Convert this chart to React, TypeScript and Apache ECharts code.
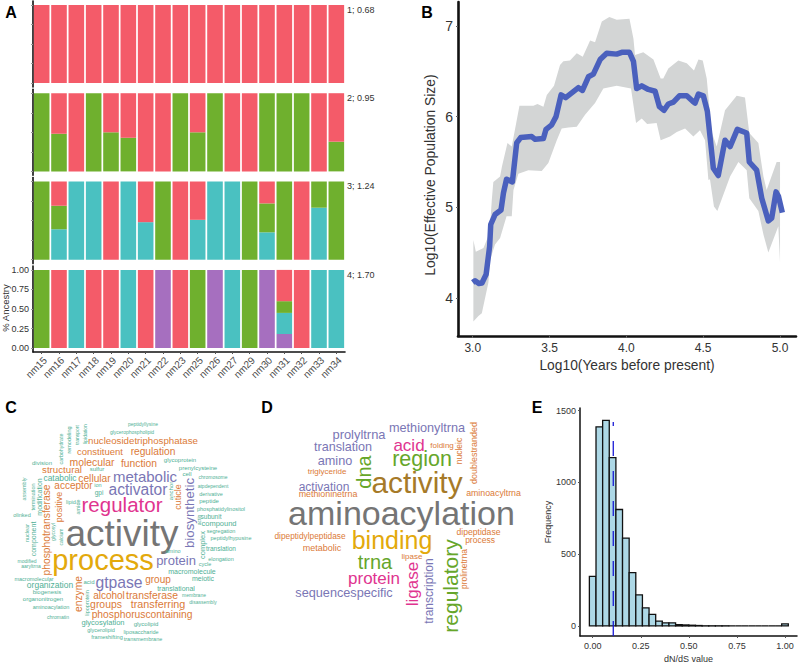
import React, { useEffect, useRef } from "react";
import * as echarts from "echarts";

// ---------- Panel A data ----------
const samples = ["nm15","nm16","nm17","nm18","nm19","nm20","nm21","nm22","nm23","nm25","nm26","nm27","nm29","nm30","nm31","nm32","nm33","nm34"];
const k1Red = [1,1,1,1,1,1,1,1,1,1,1,1,1,1,1,1,1,1];
const k2Green = [1,0.48,0,1,0.5,0.43,0,0,1,0.5,1,0,0,1,1,1,0,0.38];
const k2Red = [0,0.52,1,0,0.5,0.57,1,1,0,0.5,0,1,1,0,0,0,1,0.62];
const k3Cyan = [0,0.39,1,1,0,1,0.48,0,0,0.51,1,1,0,0.35,0,0,0.665,0];
const k3Green = [1,0.3,0,0,0,0,0,1,0,0,0,0,1,0.37,1,0,0.335,1];
const k3Red = [0,0.31,0,0,1,0,0.52,0,1,0.49,0,0,0,0.28,0,1,0,0];
const k4Purple = [0,0,0,0,0,0,0,1,0,0,1,0,0,1,0.18,0,0,0];
const k4Cyan = [0,0,1,0,0,1,0,0,0,0,0,1,0,0,0.27,0,1,1];
const k4Green = [1,0,0,0,0,0,0,0,0,1,0,0,1,0,0.15,0,0,0];
const k4Red = [0,1,0,1,1,0,1,0,1,0,0,0,0,0,0.4,1,0,0];
const stripLabels = ["1; 0.68","2; 0.95","3; 1.24","4; 1.70"];
const ancestryTicks = [0,0.25,0.5,0.75,1];

// ---------- Panel B data ----------
const skylineMean = [[3,4.17],[3.015,4.19],[3.04,4.16],[3.06,4.165],[3.087,4.26],[3.11,4.57],[3.117,4.81],[3.145,4.92],[3.184,4.97],[3.2,5.16],[3.22,5.31],[3.258,5.28],[3.286,5.71],[3.312,5.77],[3.384,5.78],[3.406,5.75],[3.46,5.76],[3.477,5.86],[3.514,5.91],[3.542,6],[3.575,6.24],[3.605,6.21],[3.688,6.32],[3.714,6.29],[3.753,6.44],[3.785,6.47],[3.829,6.63],[3.872,6.7],[3.937,6.69],[3.97,6.71],[4.02,6.71],[4.046,6.61],[4.067,6.31],[4.1,6.34],[4.143,6.3],[4.187,6.28],[4.215,6.11],[4.245,6.07],[4.273,6.14],[4.306,6.16],[4.345,6.23],[4.393,6.23],[4.432,6.17],[4.447,6.15],[4.469,6.25],[4.501,6.23],[4.527,6.06],[4.566,5.43],[4.598,5.35],[4.642,5.74],[4.675,5.67],[4.722,5.86],[4.783,5.82],[4.8,5.5],[4.848,5.41],[4.881,5.1],[4.924,4.85],[4.946,4.88],[4.974,5.17],[4.99,5.12],[5.015,4.94]];
const skylineUpper = [[3.004,4.64],[3.02,4.51],[3.07,4.55],[3.11,4.72],[3.124,5.08],[3.134,5.28],[3.178,5.34],[3.19,5.45],[3.226,5.71],[3.254,5.67],[3.304,6.12],[3.395,6.12],[3.421,6.14],[3.46,6.11],[3.482,6.24],[3.529,6.34],[3.568,6.57],[3.59,6.61],[3.633,6.62],[3.677,6.7],[3.716,6.66],[3.764,6.84],[3.796,6.82],[3.84,7.05],[3.889,7.1],[3.937,7.07],[4.02,7.08],[4.046,6.86],[4.056,6.68],[4.11,6.71],[4.176,6.63],[4.223,6.42],[4.24,6.42],[4.273,6.53],[4.338,6.62],[4.393,6.59],[4.44,6.51],[4.469,6.63],[4.497,6.62],[4.523,6.42],[4.555,5.83],[4.588,5.67],[4.642,6.07],[4.718,6.23],[4.772,6.21],[4.8,5.82],[4.859,5.71],[4.892,5.34],[4.913,5.19],[4.978,5.5],[5,5.5]];
const skylineLower = [[5,4.39],[4.989,4.79],[4.924,4.5],[4.892,4.7],[4.859,4.96],[4.8,5.1],[4.783,5.41],[4.729,5.5],[4.675,5.34],[4.592,4.96],[4.57,5.01],[4.544,5.31],[4.534,5.3],[4.512,5.74],[4.479,5.85],[4.436,5.78],[4.382,5.87],[4.328,5.83],[4.284,5.78],[4.223,5.74],[4.197,5.93],[4.135,5.92],[4.1,5.98],[4.063,5.93],[4.03,6.31],[3.937,6.34],[3.85,6.31],[3.796,6.15],[3.731,6.02],[3.677,5.89],[3.623,5.88],[3.579,5.87],[3.547,5.74],[3.492,5.49],[3.449,5.4],[3.362,5.41],[3.297,5.37],[3.265,5.19],[3.254,4.9],[3.22,4.9],[3.178,4.66],[3.145,4.59],[3.113,4.42],[3.102,4.17],[3.059,3.83],[3.037,3.8],[3.004,3.74]];
const skylineXTicks = [3,3.5,4,4.5,5];
const skylineYTicks = [4,5,6,7];

// ---------- Panel C / D words ----------
const wordsC = ["activity","process","regulator","metabolic","activator","gtpase","protein","biosynthetic","nucleosidetriphosphatase","constituent","regulation","molecular","function","structural","sulfur","catabolic","cellular","acceptor","ion","gpi","division","carbohydrate","remodeling","transport","lipidation","assembly","termination","modification","phosphotransferase","positive","lipid","amide","olinked","nuclear","component","glycosyl","calcium","modified","aaryltrna","macromolecular","organization","biogenesis","organonitrogen","aminoacylation","chromatin","enzyme","acid","lipoprotein","alcohol","transferase","groups","transferring","phosphoruscontaining","glycosylation","glycolipid","glycerolipid","frameshifting","liposaccharide","transmembrane","peptidyllysine","glycerophospholipid","glycoprotein","prenylcysteine","cell","chromosome","atpdependent","anchor","cuticle","derivative","peptide","phosphatidylinositol","subunit","compound","segregation","peptidylhypusine","translation","elongation","actin","complex","amino","cycle","macromolecule","meiotic","group","translational","membrane","disassembly"];
const wordsD = ["aminoacylation","activity","binding","region","acid","methionyltrna","prolyltrna","translation","amino","triglyceride","dna","activation","methioninetrna","folding","nucleic","doublestranded","aminoacyltrna","dipeptidylpeptidase","metabolic","dipeptidase","process","lipase","trna","protein","sequencespecific","ligase","transcription","regulatory","prolinetrna"];
// dN/dS histogram
const dnDsBinCount = [345,1387,1432,1173,811,612,372,216,126,81,34,22,22,9,7,5,3,1,1,1,1,0,0,0,0,0,0,0,0,14];
const dnDsMean = 0.107;
const dnDsXTicks = [0,0.25,0.5,0.75,1];
const dnDsYTicks = [0,500,1000,1500];

// ---------- Layout / style (separate from the data above) ----------
const RED = "#F45B69", GREEN = "#6FB02E", CYAN = "#4AC1C1", PURPLE = "#A66FBF";
const TXT = "#333333";
const FONT = "Liberation Sans";
const wc: Record<string, string> = { g: "#757575", y: "#E3A90C", p: "#E0348F", v: "#7A76B5", o: "#DB7A38", t: "#4FB095", l: "#66A62A", b: "#A67A28" };
const R = 1;
// [x, y, size, rotated, colour]
const placeC: [number, number, number, number, string][] = [
  [122,533,37,0,"g"],[103,560,29,0,"y"],[122,504,20.5,0,"p"],[145,476,15,0,"v"],[138,489,15.6,0,"v"],[119,582,15.7,0,"v"],[176,560,13,0,"v"],[189,513,13.3,R,"v"],[143,440,9.7,0,"o"],[100,451,9.5,0,"o"],[153,451,10.2,0,"o"],[92,462,10.4,0,"o"],[139,463,10.3,0,"o"],[62,469,9.7,0,"o"],[97,469,6,0,"t"],[60,478,8.4,0,"t"],[94.5,478,10.2,0,"o"],[73.5,485,10,0,"o"],[98,485,5.5,0,"t"],[99,492,6.5,0,"t"],[42,463,6,0,"t"],[61,449,5.3,R,"t"],[69,440,5.5,R,"t"],[77,435,5,R,"t"],[85,434,5,R,"t"],[24,489,5.5,R,"t"],[33,497,5.5,R,"t"],[39,497,7,R,"t"],[46,530,10.3,R,"o"],[59,507,9,R,"o"],[71,502,5.5,0,"t"],[78,507,5.5,R,"t"],[22,515,5.5,0,"t"],[27,533,5.5,R,"t"],[33,539,7,R,"t"],[53,532,5,R,"t"],[61,537,5,R,"t"],[27,561,5,0,"t"],[31,566,5,0,"t"],[34,579,5.5,0,"t"],[50,585,8.5,0,"t"],[47,592,6,0,"t"],[43,599,6,0,"t"],[51,607,5.5,0,"t"],[58,617,5,0,"t"],[78,594,10.3,R,"o"],[89,582,6,0,"t"],[87,603,5.5,R,"t"],[109,595,10,0,"o"],[152,595,10.4,0,"o"],[106,604,10.4,0,"o"],[158,604,10.8,0,"o"],[142,614,10.3,0,"o"],[103,622,7.5,0,"t"],[146,624,6,0,"t"],[101,630,5.5,0,"t"],[107,637,5.5,0,"t"],[141,632,5.5,0,"t"],[143,639,5.5,0,"t"],[143,424,5,0,"t"],[132,432,5,0,"t"],[180,460,6,0,"t"],[198,468,6,0,"t"],[187,474,6,0,"t"],[213,477,5,0,"t"],[213,486,5,0,"t"],[171,491,6,R,"t"],[178,497,9,R,"o"],[211,494,5.5,0,"t"],[209,501,6,0,"t"],[221,509,5.5,0,"t"],[211,516,6.5,0,"t"],[219,523,7.5,0,"t"],[221,531,5.5,0,"t"],[231,538,5.5,0,"t"],[221,548,6.5,0,"t"],[221,559,5.5,0,"t"],[199,520,5,R,"t"],[202,545,7.5,R,"t"],[173,551,5.5,0,"t"],[205,564,5.5,0,"t"],[192,571,7,0,"t"],[203,578,7,0,"t"],[158,579,10,0,"o"],[176,588,7,0,"t"],[194,595,5,0,"t"],[203,602,5,0,"t"],
];
const placeD: [number, number, number, number, string][] = [
  [401.5,513,34,0,"g"],[417,482,29.8,0,"b"],[392,540,25,0,"y"],[422,459,21.5,0,"l"],[409,445,17,0,"p"],[427,428,12.7,0,"v"],[359,434,12.9,0,"v"],[343,447,12.6,0,"v"],[335,461,12.7,0,"v"],[327,471,8,0,"o"],[364,472,20,R,"l"],[324,487,12,0,"v"],[328,494,8.9,0,"o"],[442,445,8,0,"o"],[459,451,8.5,R,"o"],[474,453,9,R,"o"],[493.5,493,8.8,0,"o"],[310,536,8.3,0,"o"],[322,548,9,0,"o"],[478.5,532,8.6,0,"o"],[480,540,8.5,0,"o"],[412,556,8,0,"o"],[375,562,20,0,"l"],[374,578,17,0,"p"],[344,593,12.7,0,"v"],[412,584,17,R,"p"],[429,591,12,R,"v"],[450,586,21,R,"l"],[464,569,8.5,R,"o"],
];
const panelTitles: [string, number, number][] = [["A",11,12],["B",427,12],["C",11,407],["D",267,407],["E",537,407]];
const panelTop = [1,89.3,177.6,266];

const wordEls = (words: string[], place: typeof placeC) =>
  words.map((w, i) => {
    const [x, y, s, r, c] = place[i];
    return {
      type: "text", x, y, rotation: r ? Math.PI / 2 : 0, silent: true,
      style: { text: w, fill: wc[c], fontSize: s, fontFamily: FONT, textAlign: "center", textVerticalAlign: "middle" },
    };
  });

function buildOption() {
  const grid: any[] = [];
  const xAxis: any[] = [];
  const yAxis: any[] = [];
  const series: any[] = [];
  // Panel A
  panelTop.forEach((top, i) => {
    grid.push({ left: 33, width: 312, top, height: 86 });
    const last = i === 3;
    xAxis.push({
      type: "category", gridIndex: i, data: samples, show: true,
      axisLine: { show: last, onZero: false, lineStyle: { color: "#111", width: 1.6 } },
      axisTick: { show: last, length: 2, lineStyle: { color: "#555" }, alignWithLabel: true },
      axisLabel: { show: last, rotate: 45, interval: 0, fontSize: 10, color: "#4d4d4d", fontFamily: FONT, margin: 3, verticalAlign: "top" },
      splitLine: { show: false },
    });
    yAxis.push({
      type: "value", gridIndex: i, min: -0.05, max: 1.05,
      axisLine: { show: true, onZero: false, lineStyle: { color: "#111", width: 1.6 } },
      axisTick: { show: true, length: 2, lineStyle: { color: "#999" }, customValues: ancestryTicks },
      axisLabel: { show: last, fontSize: 9, color: TXT, fontFamily: FONT, margin: 4, customValues: ancestryTicks, formatter: (v: number) => v.toFixed(2), showMinLabel: true, showMaxLabel: true },
      splitLine: { show: false },
    });
  });
  const addStack = (idx: number, layers: [number[], string][]) =>
    layers.forEach(([d, color]) =>
      series.push({ type: "bar", xAxisIndex: idx, yAxisIndex: idx, stack: "k" + idx, data: d, barWidth: "90%", itemStyle: { color }, silent: true })
    );
  addStack(0, [[k1Red, RED]]);
  addStack(1, [[k2Green, GREEN], [k2Red, RED]]);
  addStack(2, [[k3Cyan, CYAN], [k3Green, GREEN], [k3Red, RED]]);
  addStack(3, [[k4Purple, PURPLE], [k4Cyan, CYAN], [k4Green, GREEN], [k4Red, RED]]);

  // Panel B
  grid.push({ left: 458, right: 3, top: 2, height: 334 });
  xAxis.push({
    type: "value", gridIndex: 4, min: 2.904, max: 5.104,
    axisLine: { show: true, onZero: false, lineStyle: { color: "#111", width: 2.6 } },
    axisTick: { show: true, length: 2, lineStyle: { color: "#666" }, customValues: skylineXTicks },
    axisLabel: { fontSize: 12, color: TXT, fontFamily: FONT, margin: 6, customValues: skylineXTicks, formatter: (v: number) => v.toFixed(1) },
    splitLine: { show: false },
    name: "Log10(Years before present)", nameLocation: "middle", nameGap: 22,
    nameTextStyle: { fontSize: 13.8, color: TXT, fontFamily: FONT },
  });
  yAxis.push({
    type: "value", gridIndex: 4, min: 3.58, max: 7.265,
    axisLine: { show: true, onZero: false, lineStyle: { color: "#111", width: 2.6 } },
    axisTick: { show: true, length: 2, lineStyle: { color: "#666" }, customValues: skylineYTicks },
    axisLabel: { fontSize: 14, color: TXT, fontFamily: FONT, margin: 5, customValues: skylineYTicks, formatter: (v: number) => String(v) },
    splitLine: { show: false },
  });
  series.push({
    type: "custom", xAxisIndex: 4, yAxisIndex: 4, data: [[4, 5]], silent: true, z: 1, clip: false,
    renderItem: (_p: any, api: any) => ({
      type: "polygon",
      shape: { points: [...skylineUpper, ...skylineLower].map((p) => api.coord(p)) },
      style: { fill: "#D3D5D5", stroke: "none" },
    }),
  });
  series.push({
    type: "line", xAxisIndex: 4, yAxisIndex: 4, data: skylineMean, showSymbol: false, symbol: "none", silent: true, z: 3,
    lineStyle: { color: "#4A60BD", width: 5.5, join: "round", cap: "butt" },
  });

  // Panel E
  grid.push({ left: 580, right: 2, top: 408, height: 235 });
  xAxis.push({
    type: "value", gridIndex: 5, min: -0.066, max: 1.0624,
    axisLine: { show: true, onZero: false, lineStyle: { color: "#111", width: 1.5 } },
    axisTick: { show: true, length: 2, lineStyle: { color: "#555" }, customValues: dnDsXTicks },
    axisLabel: { fontSize: 9, color: TXT, fontFamily: FONT, margin: 5, customValues: dnDsXTicks, formatter: (v: number) => v.toFixed(2) },
    splitLine: { show: false },
    name: "dN/dS value", nameLocation: "middle", nameGap: 18,
    nameTextStyle: { fontSize: 9, color: TXT, fontFamily: FONT },
  });
  yAxis.push({
    type: "value", gridIndex: 5, min: -70, max: 1518,
    axisLine: { show: true, onZero: false, lineStyle: { color: "#111", width: 1.5 } },
    axisTick: { show: true, length: 2, lineStyle: { color: "#555" }, customValues: dnDsYTicks },
    axisLabel: { fontSize: 9, color: TXT, fontFamily: FONT, margin: 4, customValues: dnDsYTicks, formatter: (v: number) => String(v) },
    splitLine: { show: false },
    name: "Frequency", nameLocation: "middle", nameGap: 27, nameRotate: 90,
    nameTextStyle: { fontSize: 9, color: TXT, fontFamily: FONT },
  });
  const binW = 1 / 29;
  series.push({
    type: "custom", xAxisIndex: 5, yAxisIndex: 5, silent: true, z: 2,
    data: dnDsBinCount.map((c, i) => [i * binW, c]),
    encode: { x: 0, y: 1 },
    renderItem: (_p: any, api: any) => {
      const c = api.value(0), v = api.value(1);
      const a = api.coord([c - binW / 2, v]);
      const b = api.coord([c + binW / 2, 0]);
      return {
        type: "rect",
        shape: { x: a[0], y: a[1], width: b[0] - a[0], height: b[1] - a[1] },
        style: { fill: "#ADD8E6", stroke: "#111", lineWidth: 1.3 },
      };
    },
  });
  series.push({
    type: "line", xAxisIndex: 5, yAxisIndex: 5, silent: true, z: 4, symbol: "none", showSymbol: false,
    data: [[dnDsMean, -70], [dnDsMean, 1421]],
    lineStyle: { color: "#1A1AD6", width: 1.3, type: [15, 15] },
  });

  const graphic: any[] = [
    ...panelTitles.map(([t, x, y]) => ({
      type: "text", x, y, silent: true,
      style: { text: t, fill: "#000", fontSize: 16, fontWeight: "bold", fontFamily: FONT, textAlign: "center", textVerticalAlign: "middle" },
    })),
    ...stripLabels.map((t, i) => ({
      type: "text", x: 347, y: panelTop[i] + 8.5, silent: true,
      style: { text: t, fill: TXT, fontSize: 9, fontFamily: FONT, textAlign: "left", textVerticalAlign: "middle" },
    })),
    {
      type: "text", x: 5, y: 308, rotation: Math.PI / 2, silent: true,
      style: { text: "% Ancestry", fill: TXT, fontSize: 9.5, fontFamily: FONT, textAlign: "center", textVerticalAlign: "middle" },
    },
    {
      type: "text", x: 430, y: 175, rotation: Math.PI / 2, silent: true,
      style: { text: "Log10(Effective Population Size)", fill: TXT, fontSize: 13.9, fontFamily: FONT, textAlign: "center", textVerticalAlign: "middle" },
    },
    ...wordEls(wordsC, placeC),
    ...wordEls(wordsD, placeD),
  ];
  return { animation: false, backgroundColor: "#fff", textStyle: { fontFamily: FONT }, grid, xAxis, yAxis, series, graphic };
}

export default function App() {
  const ref = useRef<HTMLDivElement>(null);
  useEffect(() => {
    const chart = echarts.init(ref.current!, undefined, { renderer: "svg" });
    chart.setOption(buildOption() as any);
    return () => chart.dispose();
  }, []);
  return <div ref={ref} style={{ position: "absolute", left: 0, top: 0, width: 799, height: 664 }} />;
}
